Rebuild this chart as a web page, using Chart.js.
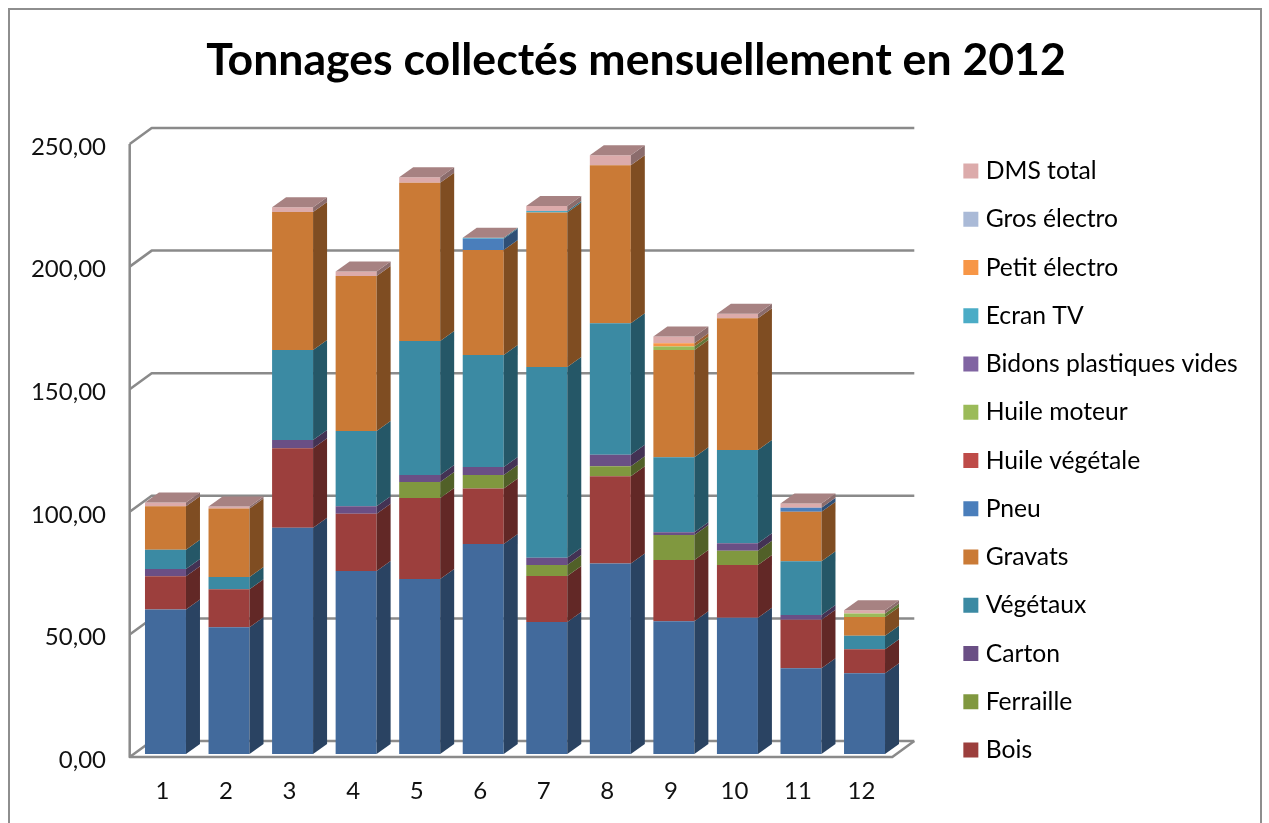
<!DOCTYPE html>
<html lang="fr">
<head>
<meta charset="utf-8">
<title>Tonnages collectés mensuellement en 2012</title>
<script src="https://cdn.jsdelivr.net/npm/chart.js@4/dist/chart.umd.min.js"></script>
<style>
    html, body { margin: 0; padding: 0; background: #fff; overflow: hidden; }
    canvas { display: block; }
</style>
</head>
<body>
<canvas id="tonnageChart" width="1269" height="823"></canvas>
<script>
// Data (tonnes per month, bottom of the stack first)
const months = ['1', '2', '3', '4', '5', '6', '7', '8', '9', '10', '11', '12'];
const toutVenant = [58.9, 51.7, 92.3, 74.6, 71.4, 85.6, 53.8, 77.7, 54.1, 55.6, 35.0, 32.9];
const bois = [13.6, 15.5, 32.4, 23.4, 33.0, 22.7, 18.8, 35.6, 25.0, 21.5, 19.8, 9.8];
const ferraille = [null, null, null, null, 6.5, 5.5, 4.5, 4.1, 10.2, 5.8, null, null];
const carton = [3.0, null, 3.4, 3.0, 2.9, 3.3, 2.9, 4.6, 1.1, 3.1, 1.9, null];
const vegetaux = [7.8, 5.0, 36.7, 30.7, 54.6, 45.6, 77.8, 53.7, 30.6, 38.0, 21.9, 5.5];
const gravats = [17.7, 27.9, 56.3, 63.2, 64.6, 42.9, 63.0, 64.4, 43.8, 53.7, 20.2, 7.7];
const pneu = [null, null, null, null, null, 4.5, null, null, null, null, 1.6, null];
const huileVegetale = [null, null, null, null, null, null, null, null, null, null, null, null];
const huileMoteur = [null, null, null, null, null, null, null, null, 1.35, null, null, 1.4];
const bidons = [null, null, null, null, null, null, null, null, null, null, null, null];
const ecranTv = [null, null, null, null, null, 0.5, 0.7, null, null, null, null, null];
const petitElectro = [null, null, null, null, null, null, null, null, 1.4, null, null, null];
const grosElectro = [null, null, null, null, null, null, null, null, null, null, null, null];
const dmsTotal = [1.6, 0.8, 1.9, 1.9, 2.2, null, 2.0, 4.1, 2.7, 1.9, 1.8, 1.35];

const seriesNames = ['Tout-venant', 'Bois', 'Ferraille', 'Carton', 'Végétaux', 'Gravats', 'Pneu', 'Huile végétale',
    'Huile moteur', 'Bidons plastiques vides', 'Ecran TV', 'Petit électro', 'Gros électro', 'DMS total'];
const seriesValues = [toutVenant, bois, ferraille, carton, vegetaux, gravats, pneu, huileVegetale,
    huileMoteur, bidons, ecranTv, petitElectro, grosElectro, dmsTotal];
const seriesColors = ['#426A9C', '#9C3F3D', '#80983F', '#6A4F85', '#3B8AA3', '#CA7A36', '#4A7EBB', '#BE4B48',
    '#9BBB59', '#8064A2', '#4BACC6', '#F79646', '#AABAD7', '#DCABAB'];

const FONT = "Lato, Carlito, sans-serif";
const GRID_COLOR = '#8A8A8A';

// fake 3D depth, in pixels
const BAR_DX = 14, BAR_DY = -10;      // depth of a bar
const FRONT_DX = -4, FRONT_DY = 3;    // axis plane compared with bar fronts
const BACK_DX = 18, BACK_DY = -13;    // back wall compared with bar fronts

function shade(hex, f) {
    const n = parseInt(hex.slice(1), 16);
    const r = Math.round((n >> 16 & 255) * f);
    const g = Math.round((n >> 8 & 255) * f);
    const b = Math.round((n & 255) * f);
    return `rgb(${r},${g},${b})`;
}

function polygon(ctx, points, color) {
    ctx.beginPath();
    points.forEach((p, i) => i ? ctx.lineTo(p[0], p[1]) : ctx.moveTo(p[0], p[1]));
    ctx.closePath();
    ctx.fillStyle = color;
    ctx.fill();
}

// Outer frame of the chart, cut by the bottom of the picture
const framePlugin = {
    id: 'frame',
    beforeDraw(chart) {
        const ctx = chart.ctx;
        ctx.save();
        ctx.fillStyle = '#fff';
        ctx.fillRect(0, 0, chart.width, chart.height);
        ctx.strokeStyle = '#8E8E8E';
        ctx.lineWidth = 2;
        ctx.strokeRect(9, 9, 1252, 840);
        ctx.restore();
    }
};

// Back wall, side wall gridlines and floor
const wallsPlugin = {
    id: 'walls',
    beforeDatasetsDraw(chart) {
        const ctx = chart.ctx;
        const area = chart.chartArea;
        const yScale = chart.scales.y;
        const x0 = area.left + FRONT_DX;
        const x1 = area.right + FRONT_DX;
        const backLeft = area.left + BACK_DX;
        const backRight = area.right + BACK_DX;

        ctx.save();
        ctx.strokeStyle = GRID_COLOR;
        ctx.lineWidth = 2.5;
        ctx.lineJoin = 'round';

        yScale.ticks.forEach(tick => {
            const y = yScale.getPixelForValue(tick.value);
            ctx.beginPath();
            ctx.moveTo(x0, y + FRONT_DY);
            ctx.lineTo(backLeft, y + BACK_DY);
            ctx.lineTo(backRight, y + BACK_DY);
            ctx.stroke();
        });

        const top = yScale.getPixelForValue(yScale.max);
        const floor = yScale.getPixelForValue(0);
        ctx.beginPath();
        ctx.moveTo(x0, top + FRONT_DY);
        ctx.lineTo(x0, floor + FRONT_DY);
        ctx.lineTo(x1, floor + FRONT_DY);
        ctx.lineTo(backRight, floor + BACK_DY);
        ctx.stroke();
        ctx.restore();
    }
};

// Side and top faces of the bars, taken from the bar elements
const depthPlugin = {
    id: 'depth',
    afterDatasetsDraw(chart) {
        const ctx = chart.ctx;
        const tops = {};

        chart.data.datasets.forEach((dataset, d) => {
            chart.getDatasetMeta(d).data.forEach((bar, i) => {
                if (dataset.data[i] === null) return;
                const p = bar.getProps(['x', 'y', 'base', 'width'], true);
                const right = p.x + p.width / 2;
                polygon(ctx, [
                    [right, p.y], [right + BAR_DX, p.y + BAR_DY],
                    [right + BAR_DX, p.base + BAR_DY], [right, p.base]
                ], shade(seriesColors[d], 0.63));
                tops[i] = p;
            });
        });

        // the lid always has the colour of the last series, even when its value is empty
        const lidColor = shade(seriesColors[seriesColors.length - 1], 0.76);
        Object.values(tops).forEach(p => {
            const left = p.x - p.width / 2;
            const right = p.x + p.width / 2;
            polygon(ctx, [
                [left, p.y], [left + BAR_DX, p.y + BAR_DY],
                [right + BAR_DX, p.y + BAR_DY], [right, p.y]
            ], lidColor);
        });
    }
};

// Put the legend and title where the reference has them
const placePlugin = {
    id: 'place',
    afterInit(chart) {
        const legend = chart.legend;
        const fit = legend.fit;
        legend.fit = function () {
            fit.call(this);
            this.width = 372.7;
        };
    },
    afterLayout(chart) {
        const legend = chart.legend;
        const w = legend.width, h = legend.height;
        legend.left = 944.8;
        legend.right = 944.8 + w;
        legend.top = 135.2;
        legend.bottom = 135.2 + h;
        chart.titleBlock.left = 3;
    }
};

const datasets = seriesNames.map((name, i) => ({
    label: name,
    data: seriesValues[i],
    backgroundColor: seriesColors[i],
    borderWidth: 0,
    stack: 'tonnes',
    barPercentage: 0.645,
    categoryPercentage: 1
}));

new Chart(document.getElementById('tonnageChart'), {
    type: 'bar',
    data: { labels: months, datasets: datasets },
    plugins: [framePlugin, wallsPlugin, depthPlugin, placePlugin],
    options: {
        responsive: false,
        animation: false,
        layout: { padding: 0 },
        plugins: {
            tooltip: { enabled: false },
            title: {
                display: true,
                text: 'Tonnages collectés mensuellement en 2012',
                color: '#000',
                font: { family: FONT, size: 44.6, weight: 'bold', lineHeight: 1.2 },
                padding: { top: 34.3, bottom: 53.2 }
            },
            legend: {
                position: 'right',
                align: 'start',
                reverse: true,
                labels: {
                    color: '#111',
                    font: { family: FONT, size: 24.7 },
                    boxWidth: 5,
                    boxHeight: 5,
                    padding: 23.55,
                    filter: item => item.datasetIndex !== 0,
                    generateLabels: chart => chart.data.datasets.map((ds, i) => ({
                        text: ds.label,
                        fillStyle: ds.backgroundColor,
                        strokeStyle: ds.backgroundColor,
                        lineWidth: 10,
                        datasetIndex: i
                    }))
                }
            }
        },
        scales: {
            x: {
                stacked: true,
                grid: { display: false, drawTicks: false },
                border: { display: false },
                ticks: {
                    color: '#111',
                    font: { family: FONT, size: 24 },
                    padding: 23,
                    labelOffset: -3,
                    maxRotation: 0
                },
                afterFit: scale => { scale.height = 69; }
            },
            y: {
                stacked: true,
                min: 0,
                max: 250,
                grid: { display: false, drawTicks: false },
                border: { display: false },
                ticks: {
                    stepSize: 50,
                    color: '#111',
                    font: { family: FONT, size: 24 },
                    padding: 27.7,
                    labelOffset: 6,
                    callback: value => value.toFixed(2).replace('.', ',')
                },
                afterFit: scale => { scale.width = 133.7; }
            }
        }
    }
});
</script>
</body>
</html>
